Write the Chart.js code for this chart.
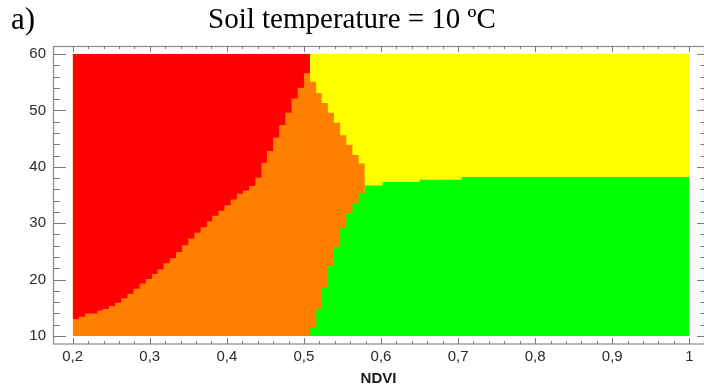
<!DOCTYPE html>
<html>
<head>
<meta charset="utf-8">
<script src="https://cdn.jsdelivr.net/npm/chart.js@4.4.1/dist/chart.umd.min.js"></script>
<style>
html,body{margin:0;padding:0;background:#fff;}
canvas{display:block;}
</style>
</head>
<body>
<canvas id="c" width="704" height="391"></canvas>
<script>
// ---- data ----
// NDVI left edges of the classification columns
const colNdvi = [0.200,0.208,0.216,0.224,0.232,0.239,0.247,0.255,0.263,0.271,
                 0.279,0.287,0.295,0.303,0.310,0.318,0.326,0.334,0.342,0.350,
                 0.358,0.366,0.374,0.381,0.389,0.397,0.405,0.413,0.421,0.429,
                 0.437,0.445,0.452,0.460,0.468,0.476,0.484,0.492,0.500,0.508,
                 0.516,0.523,0.531,0.539,0.547,0.555,0.563,0.571,0.579];
// lower edge of the red class (columns 0..38)
const redLowerEdge = [13.0,13.4,14.0,14.0,14.5,14.8,15.3,15.9,16.7,17.5,
                      18.4,19.3,20.1,21.0,21.8,22.9,23.8,24.9,26.1,27.3,
                      28.3,29.3,30.3,31.3,32.2,33.2,34.2,35.2,35.8,36.6,
                      38.1,40.7,42.8,45.2,47.4,49.6,52.1,54.0,56.6];
// upper edge of the orange class where it meets yellow (columns 39..47)
const orangeUpperEdge = [55.1,53.1,51.3,49.6,47.8,45.6,43.9,42.1,40.6];
// upper edge of the green class (columns 39..47)
const greenUpperEdge = [11.4,14.8,18.5,22.4,25.7,29.2,31.8,33.5,35.3];
// green/yellow plateau
const greenPlateauNdvi = [0.579,0.602,0.650,0.705];
const greenPlateauTop  = [36.7,37.3,37.7,38.2];
// ranges & ticks
const ndviRange = [0.2, 1.0];
const tempRange = [10, 60];
const xTicks = [0.2,0.3,0.4,0.5,0.6,0.7,0.8,0.9,1.0];
const xTickLabels = ['0,2','0,3','0,4','0,5','0,6','0,7','0,8','0,9','1'];
const yTicks = [10,20,30,40,50,60];
const yTickLabels = ['10','20','30','40','50','60'];

const COLORS = {red:'#ff0000', orange:'#ff8000', yellow:'#ffff00', green:'#00ff00'};

// ---- build polygons ----
const redPts = colNdvi.slice(0,39).map((x,i)=>({x, y: redLowerEdge[i]}));
redPts.push({x: colNdvi[39], y: redLowerEdge[38]});

const orangePts = [{x: ndviRange[0], y: tempRange[1]}]
  .concat(orangeUpperEdge.map((y,k)=>({x: colNdvi[39+k], y})));
orangePts.push({x: colNdvi[48], y: orangeUpperEdge[orangeUpperEdge.length-1]});

const greenPts = greenUpperEdge.map((y,k)=>({x: colNdvi[39+k], y}))
  .concat(greenPlateauTop.map((y,k)=>({x: greenPlateauNdvi[k], y})));
greenPts.push({x: ndviRange[1], y: greenPlateauTop[greenPlateauTop.length-1]});

const yellowPts = [{x: ndviRange[0], y: tempRange[1]}, {x: ndviRange[1], y: tempRange[1]}];

function area(data, color, fillValue){
  return {data, stepped: true, fill: {value: fillValue}, backgroundColor: color,
          borderColor: 'rgba(0,0,0,0)', borderWidth: 0, pointRadius: 0, pointHoverRadius: 0};
}

const framePlugin = {
  id: 'frame',
  afterDatasetsDraw(chart){
    const {ctx, chartArea: a, scales:{x, y}} = chart;
    ctx.save();
    ctx.strokeStyle = '#8a8a8a';
    ctx.lineWidth = 1.2;
    ctx.strokeRect(a.left+0.5, a.top+0.5, a.right - a.left, a.bottom - a.top - 0.5);
    ctx.lineWidth = 1;
    ctx.strokeStyle = '#7a7a7a';
    ctx.beginPath();
    // y ticks every 2 units
    for (let v = tempRange[0]; v <= tempRange[1]+1e-9; v += 2){
      const py = Math.round(y.getPixelForValue(v)) + 0.5;
      const major = Math.abs(v % 10) < 1e-6;
      ctx.moveTo(a.left, py); ctx.lineTo(a.left + (major ? 13 : 7), py);
      ctx.moveTo(a.right, py); ctx.lineTo(a.right - (major ? 7 : 3.5), py);
    }
    // x ticks every 0.02
    for (let k = 0; k <= 40; k++){
      const v = ndviRange[0] + k*0.02;
      const px = Math.round(x.getPixelForValue(v)) + 0.5;
      const major = k % 5 === 0;
      ctx.moveTo(px, a.bottom); ctx.lineTo(px, a.bottom - (major ? 6 : 3));
      ctx.moveTo(px, a.top); ctx.lineTo(px, a.top + (major ? 6 : 3));
    }
    ctx.stroke();
    ctx.restore();
  },
  afterDraw(chart){
    const ctx = chart.ctx;
    ctx.save();
    ctx.fillStyle = '#000';
    ctx.font = '31px "Liberation Serif", "Times New Roman", serif';
    ctx.textBaseline = 'alphabetic';
    ctx.fillText('a)', 11, 29);
    ctx.restore();
  }
};

new Chart(document.getElementById('c'), {
  type: 'line',
  data: { datasets: [
    area(redPts, COLORS.red, tempRange[1]),
    area(greenPts, COLORS.green, tempRange[0]),
    area(orangePts, COLORS.orange, tempRange[0]),
    area(yellowPts, COLORS.yellow, tempRange[0])
  ]},
  options: {
    responsive: false,
    animation: false,
    events: [],
    layout: { padding: {left: 0, right: 0, top: 0, bottom: 0} },
    plugins: {
      legend: {display: false},
      tooltip: {enabled: false},
      title: {
        display: true,
        text: 'Soil temperature = 10 ºC',
        color: '#000',
        font: {family: '"Liberation Serif", "Times New Roman", serif', size: 29, weight: 'normal', lineHeight: 1.2},
        padding: {top: 3, bottom: 8.2}
      }
    },
    scales: {
      x: {
        type: 'linear',
        min: 0.17444, max: 1.01907,
        grid: {display: false, drawTicks: false},
        border: {display: false},
        afterBuildTicks(s){ s.ticks = xTicks.map(v=>({value: v})); },
        afterFit(s){ s.height = 47; },
        ticks: {
          autoSkip: false, maxRotation: 0, padding: 4, color: '#2b2b2b',
          font: {family: '"Liberation Sans", Arial, sans-serif', size: 15},
          callback: (v, i) => xTickLabels[i]
        },
        title: {
          display: true, text: 'NDVI', color: '#1a1a1a',
          font: {family: '"Liberation Sans", Arial, sans-serif', size: 15, weight: 'bold'},
          padding: {top: 0, bottom: 3}
        }
      },
      y: {
        type: 'linear',
        min: 8.582, max: 61.418,
        grid: {display: false, drawTicks: false},
        border: {display: false},
        afterBuildTicks(s){ s.ticks = yTicks.map(v=>({value: v})); },
        afterFit(s){ s.width = 53; },
        ticks: {
          autoSkip: false, padding: 7, color: '#2b2b2b',
          font: {family: '"Liberation Sans", Arial, sans-serif', size: 15},
          callback: (v, i) => yTickLabels[i]
        }
      }
    }
  },
  plugins: [framePlugin]
});
</script>
</body>
</html>
